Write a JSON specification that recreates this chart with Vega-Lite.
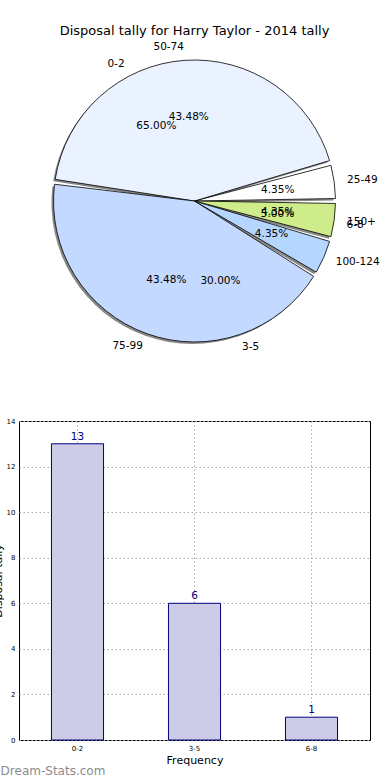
{
  "$schema": "https://vega.github.io/schema/vega-lite/v6.json",
  "padding": {"left": -9, "top": 25, "right": 0, "bottom": 0},
  "config": {"font": "DejaVu Sans", "view": {"stroke": null}},
  "title": {"text": "Dream-Stats.com", "orient": "bottom", "anchor": "start", "frame": "bounds", "color": "#8c8c8c", "fontSize": 12, "fontWeight": "normal", "font": "DejaVu Sans", "offset": 0, "dx": 9},
  "datasets": {
    "pieA": [
      {"k": 1, "range": "25-49", "count": 1, "pct": "4.35%"},
      {"k": 2, "range": "50-74", "count": 10, "pct": "43.48%"},
      {"k": 3, "range": "75-99", "count": 10, "pct": "43.48%"},
      {"k": 4, "range": "100-124", "count": 1, "pct": "4.35%"},
      {"k": 5, "range": "150+", "count": 1, "pct": "4.35%"}
    ],
    "pieB": [
      {"k": 1, "range": "0-2", "count": 13, "pct": "65.00%"},
      {"k": 2, "range": "3-5", "count": 6, "pct": "30.00%"},
      {"k": 3, "range": "6-8", "count": 1, "pct": "5.00%"}
    ],
    "bars": [
      {"bin": "0-2", "freq": 13},
      {"bin": "3-5", "freq": 6},
      {"bin": "6-8", "freq": 1}
    ]
  },
  "spacing": 56,
  "vconcat": [
    {
      "width": 351,
      "height": 318,
      "title": {"text": "Disposal tally for Harry Taylor - 2014 tally", "fontSize": 13, "fontWeight": "normal", "color": "black", "font": "DejaVu Sans", "offset": 4},
      "layer": [
        {
          "data": {"name": "pieA"},
          "mark": {"type": "arc", "outerRadius": 141, "padAngle": 0.035, "fill": "#555555", "opacity": 0.7, "xOffset": -2, "yOffset": 2},
          "encoding": {
            "theta": {"field": "count", "type": "quantitative", "stack": true, "scale": {"range": [1.5708, -4.7124]}},
            "order": {"field": "k", "type": "quantitative"}
          }
        },
        {
          "data": {"name": "pieA"},
          "mark": {"type": "arc", "outerRadius": 141, "padAngle": 0.035, "stroke": "black", "strokeWidth": 0.8},
          "encoding": {
            "theta": {"field": "count", "type": "quantitative", "stack": true, "scale": {"range": [1.5708, -4.7124]}},
            "order": {"field": "k", "type": "quantitative"},
            "color": {"field": "range", "type": "nominal", "legend": null, "scale": {"domain": ["25-49", "50-74", "75-99", "100-124", "150+"], "range": ["#ffffff", "#eaf2ff", "#c4d9ff", "#b4d6ff", "#cfec8a"]}}
          }
        },
        {
          "data": {"name": "pieB"},
          "mark": {"type": "text", "radius": 84, "fontSize": 10.5, "color": "black", "baseline": "middle", "align": "center"},
          "encoding": {
            "theta": {"field": "count", "type": "quantitative", "stack": true, "scale": {"range": [1.5708, -4.7124]}},
            "order": {"field": "k", "type": "quantitative"},
            "text": {"field": "pct"}
          }
        },
        {
          "data": {"name": "pieA"},
          "mark": {"type": "text", "radius": 84, "fontSize": 10.5, "color": "black", "baseline": "middle", "align": "center"},
          "encoding": {
            "theta": {"field": "count", "type": "quantitative", "stack": true, "scale": {"range": [1.5708, -4.7124]}},
            "order": {"field": "k", "type": "quantitative"},
            "text": {"field": "pct"}
          }
        },
        {
          "data": {"name": "pieB"},
          "mark": {"type": "text", "radius": 154, "fontSize": 10.5, "color": "black", "baseline": "middle", "align": {"expr": "indexof(['0-2','50-74','75-99'], datum.range) >= 0 ? 'right' : 'left'"}},
          "encoding": {
            "theta": {"field": "count", "type": "quantitative", "stack": true, "scale": {"range": [1.5708, -4.7124]}},
            "order": {"field": "k", "type": "quantitative"},
            "text": {"field": "range"}
          }
        },
        {
          "data": {"name": "pieA"},
          "mark": {"type": "text", "radius": 154, "fontSize": 10.5, "color": "black", "baseline": "middle", "align": {"expr": "indexof(['0-2','50-74','75-99'], datum.range) >= 0 ? 'right' : 'left'"}},
          "encoding": {
            "theta": {"field": "count", "type": "quantitative", "stack": true, "scale": {"range": [1.5708, -4.7124]}},
            "order": {"field": "k", "type": "quantitative"},
            "text": {"field": "range"}
          }
        }
      ],
      "resolve": {"scale": {"theta": "independent"}}
    },
    {
      "width": 351,
      "height": 319,
      "data": {"name": "bars"},
      "view": {"stroke": "black", "strokeWidth": 1},
      "encoding": {
        "x": {"field": "bin", "type": "nominal", "sort": null, "scale": {"paddingInner": 0.555, "paddingOuter": 0.2775},
          "axis": {"title": "Frequency", "titleFontSize": 11, "titleFontWeight": "normal", "titleColor": "black", "titlePadding": 3, "labelFontSize": 7, "labelAngle": 0, "labelColor": "black", "labelPadding": 4, "ticks": false, "domain": false, "grid": true, "gridDash": [1.5, 2.5], "gridColor": "#aaaaaa", "bandPosition": 0.5}}
      },
      "layer": [
        {
          "mark": {"type": "bar", "fill": "#ccccE6", "stroke": "#000080", "strokeWidth": 1},
          "encoding": {
            "y": {"field": "freq", "type": "quantitative", "scale": {"domain": [0, 14]},
              "axis": {"title": "Disposal tally", "titleFontSize": 11, "titleFontWeight": "normal", "titleColor": "black", "titlePadding": 3, "labelFontSize": 7, "labelColor": "black", "labelPadding": 4, "ticks": false, "domain": false, "values": [0, 2, 4, 6, 8, 10, 12, 14], "grid": true, "gridDash": [1.5, 2.5], "gridColor": "#aaaaaa"}}
          }
        },
        {
          "mark": {"type": "text", "baseline": "bottom", "dy": -2, "color": "#000080", "fontSize": 10.5},
          "encoding": {
            "y": {"field": "freq", "type": "quantitative"},
            "text": {"field": "freq"}
          }
        }
      ]
    }
  ]
}
